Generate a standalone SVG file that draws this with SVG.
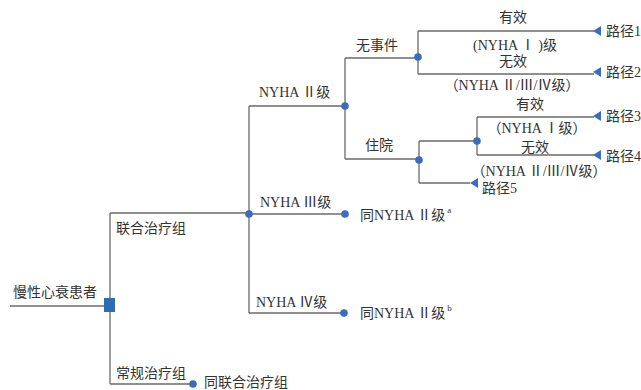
<svg xmlns="http://www.w3.org/2000/svg" width="641" height="390" viewBox="0 0 641 390">
<defs>
<style>
.ln{fill:none;stroke:#6b6b6b;stroke-width:1.3}
.dot{fill:#3a6cc0}
.arr{fill:#3a6cc0}
text{font-family:"Liberation Serif","Noto Sans CJK SC",serif;font-size:14px;fill:#333}
.c{text-anchor:middle}
.sup{font-size:9px}
</style>
</defs>
<rect width="641" height="390" fill="#fff"/>
<g id="connectors">
<path class="ln" d="M10,306 H104"/>
<path class="ln" d="M110,213 V384 M110,213 H249 M110,384 H193"/>
<path class="ln" d="M249,106 V313 M249,106 H345 M249,214 H345 M249,313 H344"/>
<path class="ln" d="M345,58 V159 M345,58 H418 M345,159 H419"/>
<path class="ln" d="M418,31 V74 M418,31 H594 M418,74 H594"/>
<path class="ln" d="M419,141 V183 M419,141 H477 M419,183 H470"/>
<path class="ln" d="M477,117 V155 M477,117 H594 M477,155 H594"/>
<polygon class="arr" points="593,31 601,26 601,36"/>
<polygon class="arr" points="593,72 601,67 601,77"/>
<polygon class="arr" points="593,116 601,111 601,121"/>
<polygon class="arr" points="593,155 601,150 601,160"/>
<polygon class="arr" points="470,183 478,178 478,188"/>
</g>
<g id="root"><rect x="104" y="298" width="11" height="14" fill="#2e6db0"/><text x="13" y="297">慢性心衰患者</text></g>
<g id="combo"><text x="116" y="233">联合治疗组</text></g>
<g id="conv"><text x="116" y="378">常规治疗组</text><circle class="dot" cx="193" cy="384" r="3.8"/><text x="204" y="387">同联合治疗组</text></g>
<g id="n2"><circle class="dot" cx="249" cy="214" r="3.8"/><text x="259" y="97">NYHA Ⅱ级</text><circle class="dot" cx="345" cy="106" r="3.8"/></g>
<g id="n3"><text x="260" y="207">NYHA Ⅲ级</text><circle class="dot" cx="345" cy="214" r="3.8"/><text x="360" y="220">同NYHA Ⅱ级<tspan class="sup" dx="2" dy="-7">a</tspan></text></g>
<g id="n4"><text x="256" y="307">NYHA Ⅳ级</text><circle class="dot" cx="344" cy="313" r="3.8"/><text x="360" y="318">同NYHA Ⅱ级<tspan class="sup" dx="2" dy="-7">b</tspan></text></g>
<g id="noevent"><text x="356" y="50">无事件</text><circle class="dot" cx="418" cy="57" r="3.8"/>
<text class="c" x="513" y="22">有效</text><text class="c" x="515" y="50">(NYHA Ⅰ )级</text>
<text class="c" x="513" y="66">无效</text><text class="c" x="512" y="90">（NYHA Ⅱ/Ⅲ/Ⅳ级）</text>
<text x="606" y="36">路径1</text><text x="606" y="77">路径2</text></g>
<g id="hosp"><text x="365" y="150">住院</text><circle class="dot" cx="419" cy="160" r="3.8"/><circle class="dot" cx="477" cy="141" r="3.8"/>
<text class="c" x="530" y="109">有效</text><text class="c" x="537" y="133">（NYHA Ⅰ级）</text>
<text class="c" x="535" y="152">无效</text><text class="c" x="539" y="176">（NYHA Ⅱ/Ⅲ/Ⅳ级）</text>
<text x="606" y="121">路径3</text><text x="606" y="161">路径4</text><text x="482" y="193">路径5</text></g>
</svg>
